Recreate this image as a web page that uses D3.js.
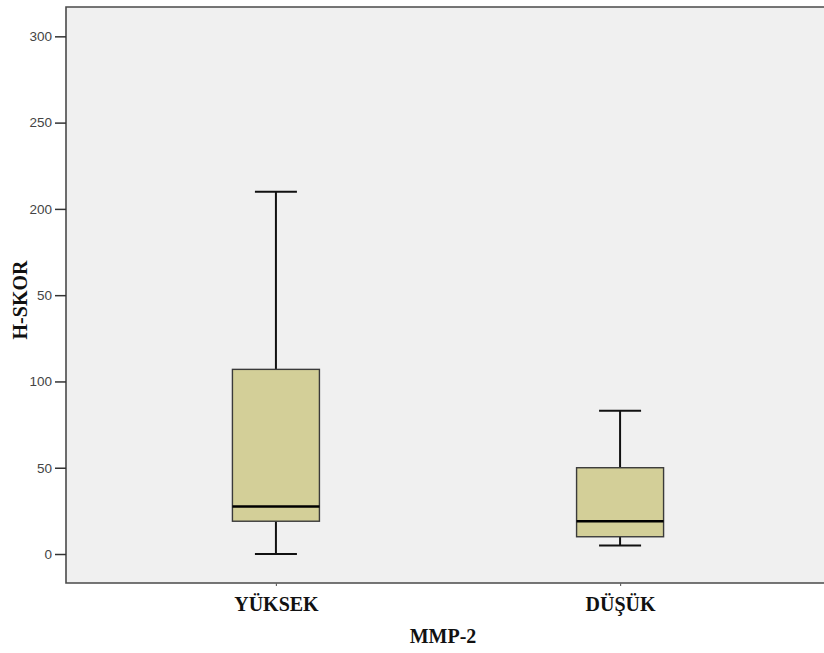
<!DOCTYPE html>
<html>
<head>
<meta charset="utf-8">
<title>H-SKOR by MMP-2</title>
<script src="https://d3js.org/d3.v7.min.js"></script>
<style>
  body { margin: 0; background: #fff; }
  svg { display: block; }
</style>
</head>
<body>
<svg id="chart" width="824" height="653"></svg>
<script>
// box plot summaries
const groups = ["YÜKSEK", "DÜŞÜK"];
const whiskerLow = [0, 5];
const q1 = [19, 10];
const median = [27.5, 19];
const q3 = [107, 50];
const whiskerHigh = [210, 83];

const tickValues = [0, 50, 100, 150, 200, 250, 300];
const tickLabels = ["0", "50", "100", "50", "200", "250", "300"]; // as printed in the original

const svg = d3.select("#chart");
const plotL = 66, plotT = 7, plotR = 830, plotB = 583;

const y = d3.scaleLinear().domain([-16.8, 317]).range([plotB, plotT]);
const x = d3.scalePoint().domain(groups).range([plotL, plotR]).padding(0.61);
const boxW = 87, capW = 42;

// plot background + frame
svg.append("rect")
    .attr("x", plotL).attr("y", plotT)
    .attr("width", plotR - plotL).attr("height", plotB - plotT)
    .attr("fill", "#f0f0f0");

svg.append("path")
    .attr("d", `M${plotR},${plotT}H${plotL}V${plotB}H${plotR}`)
    .attr("fill", "none")
    .attr("stroke", "#4a4a4a")
    .attr("stroke-width", 1.6);

// y axis
const yAxis = d3.axisLeft(y)
    .tickValues(tickValues)
    .tickSize(11)
    .tickPadding(3)
    .tickFormat((d, i) => tickLabels[i]);

const gy = svg.append("g")
    .attr("transform", `translate(${plotL},0)`)
    .call(yAxis);
gy.select(".domain").remove();
gy.selectAll(".tick line").attr("stroke", "#333").attr("stroke-width", 1.5);
gy.selectAll(".tick text")
    .attr("fill", "#444")
    .style("font-family", "'Liberation Sans', Arial, sans-serif")
    .style("font-size", "13.5px");

// x axis
const xAxis = d3.axisBottom(x).tickSize(3).tickPadding(11);
const gx = svg.append("g")
    .attr("transform", `translate(0,${plotB})`)
    .call(xAxis);
gx.select(".domain").remove();
gx.selectAll(".tick line").attr("stroke", "#666").attr("stroke-width", 1.2);
gx.selectAll(".tick text")
    .attr("fill", "#111")
    .style("font-family", "'Liberation Serif', 'Times New Roman', serif")
    .style("font-weight", "bold")
    .style("font-size", "20px");

// axis titles
svg.append("text")
    .attr("x", 443).attr("y", 643)
    .attr("text-anchor", "middle")
    .attr("fill", "#111")
    .style("font-family", "'Liberation Serif', 'Times New Roman', serif")
    .style("font-weight", "bold")
    .style("font-size", "20px")
    .text("MMP-2");

svg.append("text")
    .attr("transform", "translate(27,300) rotate(-90)")
    .attr("text-anchor", "middle")
    .attr("fill", "#111")
    .style("font-family", "'Liberation Serif', 'Times New Roman', serif")
    .style("font-weight", "bold")
    .style("font-size", "20px")
    .text("H-SKOR");

// boxes
const data = groups.map((g, i) => ({
  g, lo: whiskerLow[i], q1: q1[i], med: median[i], q3: q3[i], hi: whiskerHigh[i]
}));

const box = svg.selectAll("g.box")
    .data(data)
    .join("g")
    .attr("class", "box")
    .attr("transform", d => `translate(${x(d.g)},0)`);

// whisker stems
box.append("line")
    .attr("x1", 0).attr("x2", 0)
    .attr("y1", d => y(d.hi)).attr("y2", d => y(d.q3))
    .attr("stroke", "#111").attr("stroke-width", 2);
box.append("line")
    .attr("x1", 0).attr("x2", 0)
    .attr("y1", d => y(d.q1)).attr("y2", d => y(d.lo))
    .attr("stroke", "#111").attr("stroke-width", 2);

// caps
box.append("line")
    .attr("x1", -capW / 2).attr("x2", capW / 2)
    .attr("y1", d => y(d.hi)).attr("y2", d => y(d.hi))
    .attr("stroke", "#111").attr("stroke-width", 2);
box.append("line")
    .attr("x1", -capW / 2).attr("x2", capW / 2)
    .attr("y1", d => y(d.lo)).attr("y2", d => y(d.lo))
    .attr("stroke", "#111").attr("stroke-width", 2);

// IQR rect
box.append("rect")
    .attr("x", -boxW / 2).attr("width", boxW)
    .attr("y", d => y(d.q3))
    .attr("height", d => y(d.q1) - y(d.q3))
    .attr("fill", "#d3cf98")
    .attr("stroke", "#3a3a3a")
    .attr("stroke-width", 1.4);

// median
box.append("line")
    .attr("x1", -boxW / 2).attr("x2", boxW / 2)
    .attr("y1", d => y(d.med)).attr("y2", d => y(d.med))
    .attr("stroke", "#000").attr("stroke-width", 2.6);
</script>
</body>
</html>
